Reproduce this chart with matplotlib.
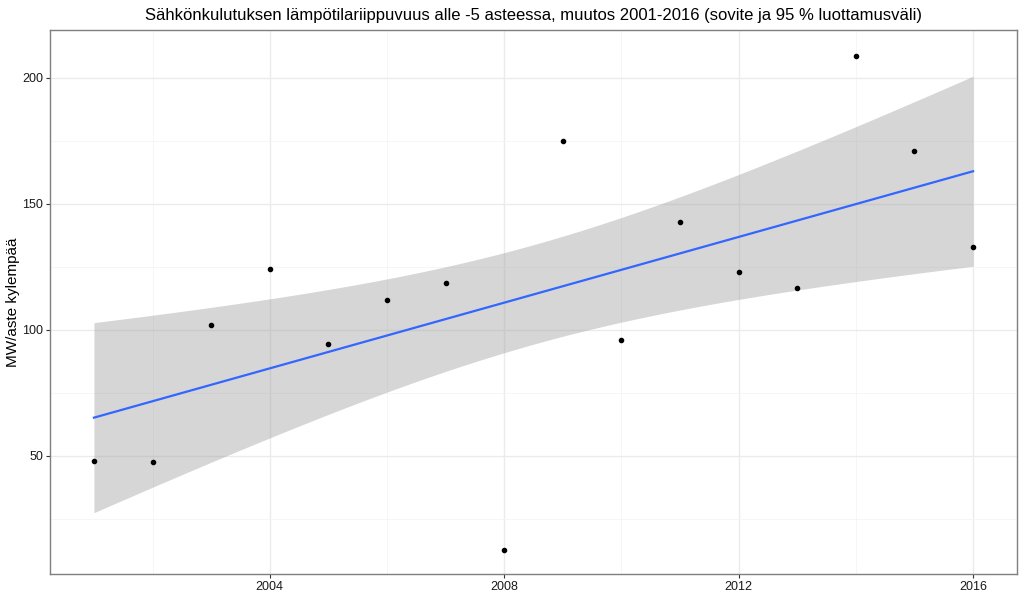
import numpy as np
import matplotlib.pyplot as plt

plt.rcParams['font.family'] = ['Liberation Sans', 'DejaVu Sans']

# vuodet ja lämpötilariippuvuus (MW/aste kylempää)
vuodet = np.arange(2001, 2017)
riippuvuus = [48.2, 47.5, 102.0, 124.1, 94.5, 111.7, 118.4, 12.9,
              174.8, 95.8, 142.6, 123.1, 116.7, 208.7, 170.9, 132.8]
x_ticks = [2004, 2008, 2012, 2016]
y_ticks = [50, 100, 150, 200]

x = vuodet.astype(float)
y = np.array(riippuvuus)

# lineaarinen sovite ja 95 % luottamusväli
n = len(x)
b, a = np.polyfit(x, y, 1)
res = y - (a + b * x)
s = np.sqrt(np.sum(res ** 2) / (n - 2))
z = 1.96
xs = np.linspace(x.min(), x.max(), 80)
fit = a + b * xs
se = s * np.sqrt(1 / n + (xs - x.mean()) ** 2 / np.sum((x - x.mean()) ** 2))

fig = plt.figure(figsize=(10.24, 6.16), dpi=100)
ax = fig.add_axes([50 / 1024, 42 / 616, 967 / 1024, 544 / 616])

ax.fill_between(xs, fit - z * se, fit + z * se, color='#999999', alpha=0.4,
                linewidth=0, zorder=2)
ax.plot(xs, fit, color='#3366FF', linewidth=1.6, zorder=3)
ax.plot(x, y, 'o', color='black', markersize=3, zorder=4)

ax.set_xlim(2000.25, 2016.75)
ax.set_ylim(3.2, 218.9)
ax.set_xticks(x_ticks)
ax.set_xticklabels([str(v) for v in x_ticks])
ax.set_yticks(y_ticks)
ax.set_xticks([2002, 2006, 2010, 2014], minor=True)
ax.set_yticks([25, 75, 125, 175], minor=True)
ax.grid(which='major', color='#EBEBEB', linewidth=1.0, zorder=0)
ax.grid(which='minor', color='#F5F5F5', linewidth=0.6, zorder=0)
ax.set_axisbelow(True)
ax.tick_params(which='major', length=3, pad=2, color='#333333', labelsize=9,
               labelcolor='#1A1A1A', width=0.8)
ax.tick_params(which='minor', length=0)
for sp in ax.spines.values():
    sp.set_color('#7F7F7F')
    sp.set_linewidth(1.0)

ax.set_ylabel('MW/aste kylempää', fontsize=11)
ax.yaxis.set_label_coords(-30 / 967, 0.5)
ax.set_title('Sähkönkulutuksen lämpötilariippuvuus alle -5 asteessa, muutos 2001-2016 '
             '(sovite ja 95 % luottamusväli)', fontsize=12, pad=7)

fig.savefig('out.png', dpi=100)
